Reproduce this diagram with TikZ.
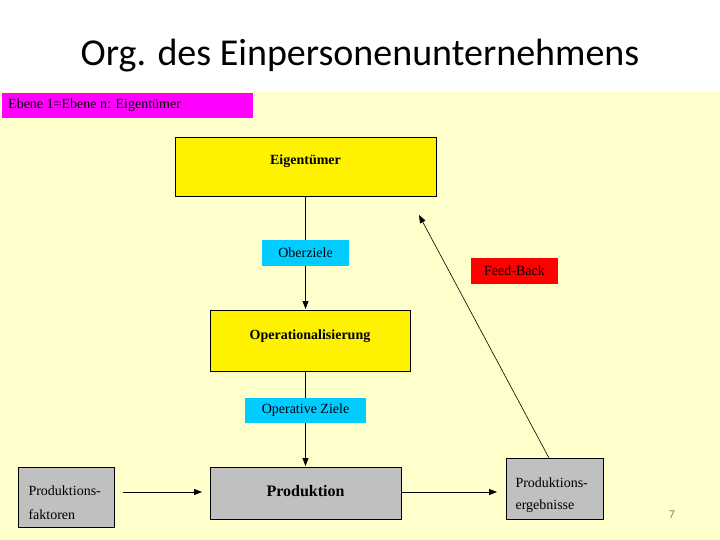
\documentclass[tikz,border=0pt]{standalone}
\usepackage{fontspec}
\setmainfont{Liberation Serif}
\newfontfamily\serf{Liberation Serif}
\newfontfamily\titlefont{Carlito}
\usetikzlibrary{arrows.meta}
\definecolor{bgy}{HTML}{FFFFCC}
\definecolor{mag}{HTML}{FF00FF}
\definecolor{cy}{HTML}{00CCFF}
\definecolor{gr}{HTML}{C0C0C0}
\begin{document}
\begin{tikzpicture}[x=1pt,y=-1pt,
 box/.style={draw=black,line width=0.8pt,anchor=north west,inner sep=0pt},
 tag/.style={anchor=north west,inner sep=0pt},
 arr/.style={-{Triangle[length=8pt,width=6pt]},line width=0.8pt},
 ln/.style={line width=0.8pt},
 lbl/.style={font=\serf\fontsize{14}{16}\selectfont},
 blbl/.style={font=\serf\bfseries\fontsize{14}{16}\selectfont}]
\useasboundingbox (0,0) rectangle (720,540);
\fill[white] (0,0) rectangle (720,540);
\fill[bgy] (0,92) rectangle (720,540);
\node[font=\titlefont\fontsize{38}{42}\selectfont] (title) at (360,56) {Org. des Einpersonenunternehmens};
\node[tag,fill=mag,minimum width=251pt,minimum height=25pt] (eb) at (2,93) {};
\node[lbl,anchor=west,inner sep=0pt] (ebt) at (8,105.5) {Ebene 1=Ebene n: Eigentümer};
\node[box,fill=yellow,minimum width=261pt,minimum height=59pt] (eig) at (175,137) {};
\node[blbl] (eigt) at (305.5,161) {Eigentümer};
\node[tag,fill=cy,minimum width=87pt,minimum height=26pt] (ob) at (262,240) {};
\node[lbl] (obt) at (305.5,253) {Oberziele};
\node[box,fill=yellow,minimum width=200pt,minimum height=61pt] (op) at (210,310) {};
\node[blbl] (opt) at (310,336) {Operationalisierung};
\node[tag,fill=cy,minimum width=121pt,minimum height=25pt] (oz) at (245,398) {};
\node[lbl] (ozt) at (305.5,410.5) {Operative Ziele};
\node[box,fill=gr,minimum width=191pt,minimum height=52pt] (pr) at (210,467) {};
\node[font=\serf\bfseries\fontsize{16}{18}\selectfont] (prt) at (305.5,491) {Produktion};
\node[box,fill=gr,minimum width=96pt,minimum height=60pt] (pf) at (18,467) {};
\node[anchor=west,align=left,font=\serf\fontsize{14}{24}\selectfont] (pft) at (25,503) {Produktions-\\faktoren};
\node[box,fill=gr,minimum width=97pt,minimum height=61pt] (pe) at (506,458) {};
\node[anchor=west,align=left,font=\serf\fontsize{14}{22}\selectfont] (pet) at (512,495) {Produktions-\\ergebnisse};
\node[tag,fill=red,minimum width=87pt,minimum height=26pt] (fb) at (471,258) {};
\node[lbl] (fbt) at (514.5,271) {Feed-Back};
\node[text=gray,font=\titlefont\fontsize{12}{14}\selectfont] (pn) at (672,515) {7};
\coordinate (a1) at (305.5,196);
\coordinate (a2) at (305.5,240);
\coordinate (a3) at (305.5,266);
\coordinate (a4) at (305.5,309);
\coordinate (b1) at (305.5,371);
\coordinate (b2) at (305.5,398);
\coordinate (b3) at (305.5,423);
\coordinate (b4) at (305.5,466);
\draw[ln] (a1) -- (a2);
\draw[arr] (a3) -- (a4);
\draw[ln] (b1) -- (b2);
\draw[arr] (b3) -- (b4);
\coordinate (c1) at (123,492);
\coordinate (c2) at (202,492);
\coordinate (c3) at (401,492);
\coordinate (c4) at (497,492);
\draw[arr] (c1) -- (c2);
\draw[arr] (c3) -- (c4);
\coordinate (d1) at (549,458);
\coordinate (d2) at (419,215);
\draw[arr,line width=0.6pt] (d1) -- (d2);
\end{tikzpicture}
\end{document}
